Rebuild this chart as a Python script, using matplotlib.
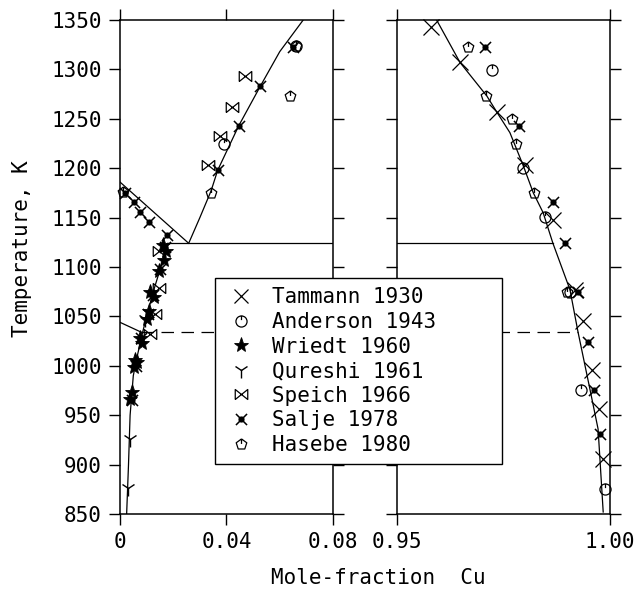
import matplotlib
matplotlib.use('Agg')
import matplotlib.pyplot as plt
from matplotlib.path import Path
from matplotlib.lines import Line2D
import numpy as np

plt.rcParams['font.family'] = ['DejaVu Sans Mono', 'DejaVu Sans']
plt.rcParams['font.size'] = 15

# ---- phase boundaries (x = mole fraction Cu, T in K) ----
# Fe-rich side
alpha_solvus_x = [0.0025, 0.0032, 0.0038, 0.0050, 0.0065, 0.0085, 0.0105, 0.0125, 0.0150, 0.0165, 0.0180]
alpha_solvus_T = [850, 900, 950, 990, 1010, 1034, 1055, 1075, 1097, 1110, 1124]
gamma_alpha_x = [0.0, 0.0258]
gamma_alpha_T = [1186, 1124]
gamma_solvus_x = [0.0258, 0.0300, 0.0342, 0.0367, 0.0446, 0.0527, 0.0600, 0.0688]
gamma_solvus_T = [1124, 1150, 1177, 1198, 1243, 1283, 1318, 1350]
curie_x = [0.0, 0.0080]
curie_T = [1044, 1034]
eutectoid_T = 1124
curie_flat_T = 1034

# Cu-rich side
cu_solvus_x = [0.9593, 0.9648, 0.9711, 0.9734, 0.9765, 0.9796, 0.9820, 0.9843, 0.9866,
               0.9906, 0.9925, 0.9953, 0.9972, 0.9984]
cu_solvus_T = [1350, 1307, 1273, 1257, 1236, 1203, 1175, 1155, 1124, 1077, 1034, 976, 936, 852]

# ---- measurements ----
tammann_x = [0.9581, 0.9648, 0.9734, 0.9800, 0.9866, 0.9918, 0.9937, 0.9957, 0.9975, 0.9984]
tammann_T = [1343, 1307, 1257, 1203, 1148, 1077, 1045, 996, 956, 906]

anderson_x = [0.0389, 0.0660, 0.9722, 0.9795, 0.9847, 0.9906, 0.9933, 0.9988]
anderson_T = [1224, 1324, 1299, 1200, 1151, 1075, 975, 875]

wriedt_x = [0.0039, 0.0046, 0.0052, 0.0058, 0.0064, 0.0077, 0.0083, 0.0102, 0.0108, 0.0114,
            0.0127, 0.0146, 0.0164, 0.0171, 0.0160]
wriedt_T = [966, 973, 999, 1006, 1004, 1028, 1023, 1047, 1055, 1075, 1070, 1096, 1107, 1116, 1122]

qureshi_x = [0.0030, 0.0038, 0.0095]
qureshi_T = [876, 926, 1047]

speich_x = [0.0329, 0.0377, 0.0420, 0.0470, 0.0146, 0.0146, 0.0133, 0.0114]
speich_T = [1203, 1233, 1262, 1293, 1116, 1079, 1052, 1032]

salje_x = [0.0020, 0.0052, 0.0074, 0.0108, 0.0177, 0.0367, 0.0446, 0.0527, 0.0650,
           0.0045, 0.0060, 0.0080, 0.0105, 0.0125, 0.0150, 0.0170,
           0.9707, 0.9787, 0.9867, 0.9894, 0.9926, 0.9949, 0.9962, 0.9976]
salje_T = [1175, 1166, 1156, 1146, 1132, 1198, 1243, 1283, 1323,
           965, 1000, 1028, 1052, 1072, 1098, 1120,
           1323, 1243, 1166, 1124, 1075, 1024, 975, 931]

hasebe_x = [0.0012, 0.0342, 0.0639, 0.0660, 0.9667, 0.9709, 0.9769, 0.9779, 0.9822, 0.9900]
hasebe_T = [1176, 1175, 1273, 1324, 1323, 1273, 1250, 1224, 1175, 1075]

labels = ['Tammann 1930', 'Anderson 1943', 'Wriedt 1960', 'Qureshi 1961',
          'Speich 1966', 'Salje 1978', 'Hasebe 1980']

# ---- custom marker shapes ----
M, L = Path.MOVETO, Path.LINETO
circ = Path.unit_circle()
circ_tick = Path.make_compound_path(circ, Path([(0, 1), (0, 0.25)], [M, L]))
ang = np.pi / 2 + np.arange(5) * 2 * np.pi / 5
pent = [(np.cos(a), np.sin(a)) for a in ang]
pent_tick = Path.make_compound_path(
    Path(pent + [pent[0]], [M, L, L, L, L, L]),
    Path([(0, 1), (0, 0.1)], [M, L]))
bowtie = Path([(-1, -0.8), (-1, 0.8), (1, -0.8), (1, 0.8), (-1, -0.8)], [M, L, L, L, L])
dot_x = Path.make_compound_path(
    Path([(-1, -1), (1, 1), (-1, 1), (1, -1)], [M, L, M, L]),
    Path.circle((0, 0), 0.42))

styles = {
    'tammann': dict(marker='x', ms=12, mew=0.9, mfc='none'),
    'anderson': dict(marker=circ_tick, ms=8, mew=0.9, mfc='none'),
    'wriedt': dict(marker='*', ms=11, mew=0.6, mfc='k'),
    'qureshi': dict(marker='1', ms=11, mew=1.0, mfc='none'),
    'speich': dict(marker=bowtie, ms=9, mew=0.9, mfc='none'),
    'salje': dict(marker=dot_x, ms=8, mew=1.1, mfc='k'),
    'hasebe': dict(marker=pent_tick, ms=8, mew=0.9, mfc='none'),
}
series = [('tammann', tammann_x, tammann_T), ('anderson', anderson_x, anderson_T),
          ('wriedt', wriedt_x, wriedt_T), ('qureshi', qureshi_x, qureshi_T),
          ('speich', speich_x, speich_T), ('salje', salje_x, salje_T),
          ('hasebe', hasebe_x, hasebe_T)]

fig = plt.figure(figsize=(6.43, 5.92), dpi=100)
axL = fig.add_axes([0.1866, 0.1318, 0.3313, 0.8344])
axR = fig.add_axes([0.6174, 0.1318, 0.3313, 0.8344])

lw = 0.9
# left panel lines
axL.plot(alpha_solvus_x, alpha_solvus_T, 'k-', lw=lw)
axL.plot(gamma_alpha_x, gamma_alpha_T, 'k-', lw=lw)
axL.plot(gamma_solvus_x, gamma_solvus_T, 'k-', lw=lw)
axL.plot(curie_x, curie_T, 'k-', lw=lw)
axL.plot([alpha_solvus_x[-1], 0.08], [eutectoid_T, eutectoid_T], 'k-', lw=lw)
axL.plot([curie_x[-1], 0.08], [curie_flat_T, curie_flat_T], 'k-', lw=lw, dashes=(10, 6))
# right panel lines
axR.plot(cu_solvus_x, cu_solvus_T, 'k-', lw=lw)
axR.plot([0.95, cu_solvus_x[cu_solvus_T.index(eutectoid_T)]], [eutectoid_T, eutectoid_T], 'k-', lw=lw)
axR.plot([0.95, cu_solvus_x[cu_solvus_T.index(curie_flat_T)]], [curie_flat_T, curie_flat_T],
         'k-', lw=lw, dashes=(10, 6))

for name, xs, ts in series:
    xs = np.array(xs)
    ts = np.array(ts)
    for ax, m in ((axL, xs < 0.5), (axR, xs >= 0.5)):
        if m.any():
            ax.plot(xs[m], ts[m], ls='none', color='k', mec='k', clip_on=False, **styles[name])

axL.set_xlim(0, 0.08)
axR.set_xlim(0.95, 1.00)
for ax in (axL, axR):
    ax.set_ylim(850, 1350)
    ax.set_yticks(np.arange(850, 1351, 50))
    ax.tick_params(direction='out', length=8, width=1, top=True, right=True, pad=5,
                   labelsize=15)
    for s in ax.spines.values():
        s.set_linewidth(1.1)
axL.set_xticks([0, 0.04, 0.08])
axL.set_xticklabels(['0', '0.04', '0.08'])
axR.set_xticks([0.95, 1.00])
axR.set_xticklabels(['0.95', '1.00'])
axR.tick_params(labelleft=False)

fig.text(22 / 643, 0.58, 'Temperature, K', rotation=90, ha='center', va='center', fontsize=15)
fig.text(378 / 643, 1 - 578 / 592, 'Mole-fraction  Cu', ha='center', va='center', fontsize=15)

handles = [Line2D([], [], ls='none', color='k', mec='k', **dict(styles[n], ms=styles[n]['ms'] * f))
           for (n, _, _), f in zip(series, [0.85, 1, 1, 1, 1, 1, 1])]
leg = fig.legend(handles, labels, loc='upper left',
                 bbox_to_anchor=(215 / 643, 1 - 278 / 592 - 0.01, 287 / 643, 0.01),
                 bbox_transform=fig.transFigure, mode='expand', borderaxespad=0,
                 fontsize=15, frameon=True, fancybox=False, edgecolor='k',
                 framealpha=1, borderpad=0.45, handlelength=1.6, handletextpad=0.7,
                 labelspacing=0.22)
leg.get_frame().set_linewidth(1.0)
leg.set_zorder(10)

fig.savefig('out.png', dpi=100)
